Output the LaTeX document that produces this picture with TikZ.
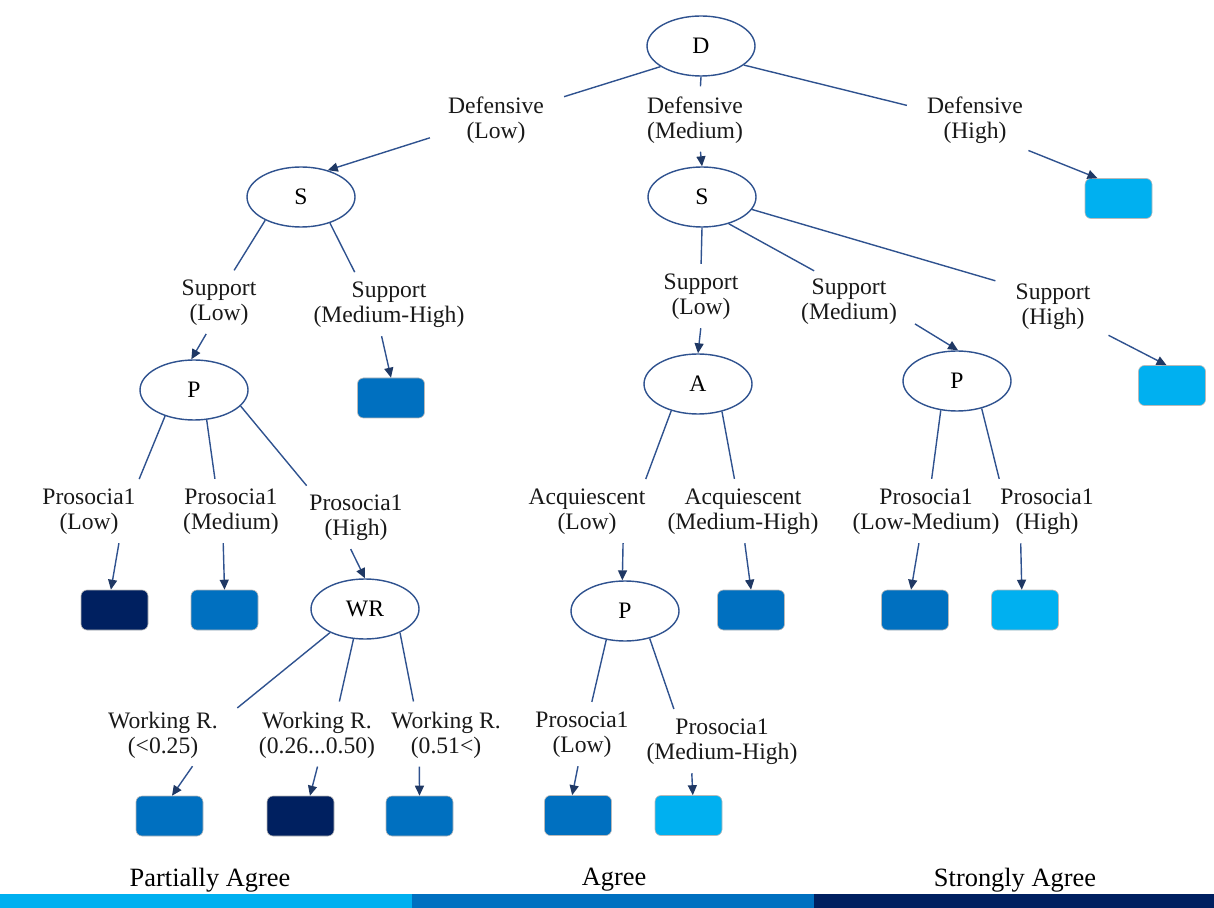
\documentclass[tikz,border=0pt]{standalone}
\usepackage{fontspec}
\setmainfont{Liberation Serif}
\usepackage{xcolor}
\usetikzlibrary{shapes.geometric, arrows.meta}

\definecolor{lineblue}{HTML}{2F528F}
\definecolor{tipnavy}{HTML}{1F3864}
\definecolor{agreelight}{HTML}{00B0F0}
\definecolor{agreemid}{HTML}{0070C0}
\definecolor{agreedark}{HTML}{002060}

\newcommand{\lblfont}{\fontsize{11.8}{12.5}\selectfont}
\newcommand{\classfont}{\fontsize{13.2}{14}\selectfont}

\tikzset{
  split/.style={ellipse, draw=lineblue, line width=0.7pt, fill=white,
    minimum width=54pt, minimum height=30pt, inner sep=0pt, font=\lblfont},
  leaf/.style={rounded corners=3pt, draw=gray!55, line width=0.3pt,
    minimum width=33.5pt, minimum height=20pt, inner sep=0pt},
  branch/.style={align=center, font=\lblfont, text=black!90,
    inner xsep=8pt, inner ysep=3pt},
  edge/.style={draw=lineblue, line width=0.7pt, shorten >=2pt},
  pointer/.style={draw=lineblue, line width=0.7pt, shorten <=1pt,
    -{Triangle[length=5pt, width=4.5pt, color=tipnavy]}}
}

\begin{document}
\begin{tikzpicture}[x=0.5pt, y=-0.5pt]
  \useasboundingbox (0,0) rectangle (1214,908);

  % Split nodes
  \node[split] (D)  at (701, 46) {D};
  \node[split] (S1) at (301,197) {S};
  \node[split] (S2) at (702,197) {S};
  \node[split] (P1) at (194,390) {P};
  \node[split] (WR) at (365,609) {WR};
  \node[split] (A)  at (698,384) {A};
  \node[split] (P2) at (625,611) {P};
  \node[split] (P3) at (957,381) {P};

  % Branch labels
  \node[branch] (dL)   at (496,120) {Defensive\\(Low)};
  \node[branch] (dM)   at (695,120) {Defensive\\(Medium)};
  \node[branch] (dH)   at (975,120) {Defensive\\(High)};
  \node[branch] (s1L)  at (219,303) {Support\\(Low)};
  \node[branch] (s1MH) at (389,305) {Support\\(Medium-High)};
  \node[branch] (s2L)  at (701,297) {Support\\(Low)};
  \node[branch] (s2M)  at (849,302) {Support\\(Medium)};
  \node[branch] (s2H)  at (1053,307) {Support\\(High)};
  \node[branch] (p1L)  at (89,512)  {Prosocia1\\(Low)};
  \node[branch] (p1M)  at (231,512) {Prosocia1\\(Medium)};
  \node[branch] (p1H)  at (356,518) {Prosocia1\\(High)};
  \node[branch] (wL)   at (163,735) {Working R.\\(<0.25)};
  \node[branch] (wM)   at (317,735) {Working R.\\(0.26...0.50)};
  \node[branch] (wH)   at (446,735) {Working R.\\(0.51<)};
  \node[branch] (aL)   at (587,512) {Acquiescent\\(Low)};
  \node[branch] (aMH)  at (743,512) {Acquiescent\\(Medium-High)};
  \node[branch] (p2L)  at (582,735) {Prosocia1\\(Low)};
  \node[branch] (p2MH) at (722,742) {Prosocia1\\(Medium-High)};
  \node[branch] (p3LM) at (926,512) {Prosocia1\\(Low-Medium)};
  \node[branch] (p3H)  at (1047,512) {Prosocia1\\(High)};

  % Leaves
  \node[leaf, fill=agreelight] (lDH)   at (1118.5,198.5) {};
  \node[leaf, fill=agreemid]   (lSMH)  at (391,398)   {};
  \node[leaf, fill=agreedark]  (lPL)   at (114.5,610) {};
  \node[leaf, fill=agreemid]   (lPM)   at (224.5,610) {};
  \node[leaf, fill=agreemid]   (lW1)   at (169.5,816) {};
  \node[leaf, fill=agreedark]  (lW2)   at (300.5,816) {};
  \node[leaf, fill=agreemid]   (lW3)   at (419.5,816) {};
  \node[leaf, fill=agreelight] (lSH)   at (1172,385.5) {};
  \node[leaf, fill=agreemid]   (lAMH)  at (751,610)   {};
  \node[leaf, fill=agreemid]   (lP2L)  at (578,815.5) {};
  \node[leaf, fill=agreelight] (lP2MH) at (688.5,815.5) {};
  \node[leaf, fill=agreemid]   (lP3LM) at (915,610)   {};
  \node[leaf, fill=agreelight] (lP3H)  at (1025,610)  {};

  % Defensive
  \draw[edge] (D.207) -- (dL.19);  \draw[pointer] (dL.195) -- (S1.45);
  \draw[edge] (D.270) -- (dM.80);  \draw[pointer] (dM.280) -- (S2.north);
  \draw[edge] (D.336) -- (dH.168); \draw[pointer] (dH.330) -- (lDH.136);

  % Support, left
  \draw[edge] (S1.213) -- (s1L.66);   \draw[pointer] (s1L.248) -- (P1.95);
  \draw[edge] (S1.318) -- (s1MH.138); \draw[pointer] (s1MH.255) -- (lSMH.north);

  % Prosocial, left
  \draw[edge] (P1.222) -- (p1L.31);  \draw[pointer] (p1L.316) -- (lPL.100);
  \draw[edge] (P1.293) -- (p1M.118); \draw[pointer] (p1M.255) -- (lPM.north);
  \draw[edge] (P1.341) -- (p1H.148); \draw[pointer] (p1H.258) -- (WR.north);

  % Working R.
  \draw[edge] (WR.214) -- (wL.19);  \draw[pointer] (wL.316) -- (lW1.83);
  \draw[edge] (WR.249) -- (wM.54);  \draw[pointer] (wM.272) -- (lW2.65);
  \draw[edge] (WR.326) -- (wH.137); \draw[pointer] (wH.228) -- (lW3.north);

  % Support, middle
  \draw[edge] (S2.south) -- (s2L.north); \draw[pointer] (s2L.south) -- (A.north);
  \draw[edge] (S2.315) -- (s2M.137);     \draw[pointer] (s2M.342) -- (P3.88);
  \draw[edge] (S2.346) -- (s2H.155);     \draw[pointer] (s2H.333) -- (lSH.105);

  % Acquiescent
  \draw[edge] (A.225) -- (aL.27);   \draw[pointer] (aL.321) -- (P2.95);
  \draw[edge] (A.311) -- (aMH.105); \draw[pointer] (aMH.273) -- (lAMH.north);

  % Prosocial, middle
  \draw[edge] (P2.237) -- (p2L.73);   \draw[pointer] (p2L.263) -- (lP2L.106);
  \draw[edge] (P2.312) -- (p2MH.148); \draw[pointer] (p2MH.224) -- (lP2MH.78);

  % Prosocial, right
  \draw[edge] (P3.241) -- (p3LM.80); \draw[pointer] (p3LM.257) -- (lP3LM.101);
  \draw[edge] (P3.312) -- (p3H.148); \draw[pointer] (p3H.228) -- (lP3H.99);

  % Class legend
  \node[font=\classfont] (partial) at (210,880) {Partially Agree};
  \node[font=\classfont] (agree)   at (614,880) {Agree};
  \node[font=\classfont] (strong)  at (1015,880) {Strongly Agree};
  \fill[agreelight] (0,894)   rectangle (412,908);
  \fill[agreemid]   (412,894) rectangle (814,908);
  \fill[agreedark]  (814,894) rectangle (1214,908);
\end{tikzpicture}
\end{document}
